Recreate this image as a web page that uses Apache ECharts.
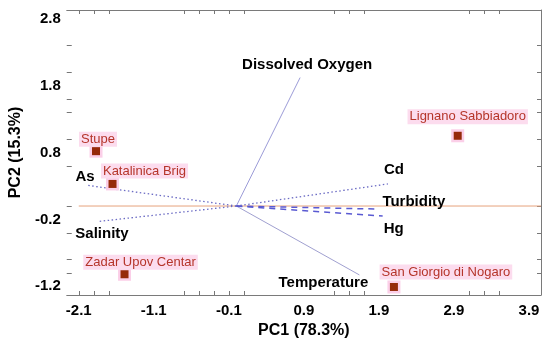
<!DOCTYPE html>
<html>
<head>
<meta charset="utf-8">
<script src="https://cdn.jsdelivr.net/npm/echarts@6/dist/echarts.min.js"></script>
<style>
html,body{margin:0;padding:0;background:#fff;}
#chart{width:550px;height:344px;}
</style>
</head>
<body>
<div id="chart"></div>
<script>
// ---- data ----
const xTickLabels = [-2.1, -1.1, -0.1, 0.9, 1.9, 2.9, 3.9];
const yTickLabels = [-1.2, -0.2, 0.8, 1.8, 2.8];
const xMinorTicks = [-2.1, -1.9, -1.7, -0.7, -0.5, -0.3, -0.1, 0.1, 1.3, 1.5, 1.7, 3.1, 3.3, 3.5];
const yMinorTicks = [-1.0, -0.8, -0.4, 0.0, 0.6, 1.0, 1.4, 1.6, 2.0, 2.4];

const siteNames = ["Stupe", "Katalinica Brig", "Zadar Upov Centar", "Lignano Sabbiadoro", "San Giorgio di Nogaro"];
const sitePC1 = [-1.87, -1.65, -1.49, 2.95, 2.10];
const sitePC2 = [0.82, 0.33, -1.02, 1.05, -1.21];

const varNames = ["Dissolved Oxygen", "Temperature", "Cd", "Turbidity", "Hg", "As", "Salinity"];
const varPC1 = [0.85, 1.64, 2.02, 1.86, 1.95, -1.99, -1.83];
const varPC2 = [1.92, -1.03, 0.33, -0.045, -0.15, 0.31, -0.23];

const zeroLineX = [-2.1, 4.06];

// ---- styling (kept apart from data) ----
const FONT = "'Liberation Sans', Arial, sans-serif";
const siteLabelOffset = {
  "Stupe": [2, -12],
  "Katalinica Brig": [32, -13],
  "Zadar Upov Centar": [16, -12],
  "Lignano Sabbiadoro": [10, -19],
  "San Giorgio di Nogaro": [52, -15]
};
const varLabelOffset = {
  "Dissolved Oxygen": [7, -13],
  "Temperature": [-36, 8],
  "Cd": [6, -14],
  "Turbidity": [38, -7],
  "Hg": [11, 13],
  "As": [-2, -8],
  "Salinity": [3, 12]
};
const varLineStyle = {
  "Dissolved Oxygen": {color: '#9c9cd8', width: 1, type: 'solid'},
  "Temperature": {color: '#a0a0d0', width: 1, type: 'solid'},
  "Cd": {color: '#6c6cc4', width: 1.3, type: [1.5, 2.5]},
  "Turbidity": {color: '#5a5ad2', width: 1.5, type: [6, 5]},
  "Hg": {color: '#5a5ad2', width: 1.5, type: [6, 5]},
  "As": {color: '#6c6cc4', width: 1.3, type: [1.5, 2.5]},
  "Salinity": {color: '#6c6cc4', width: 1.3, type: [1.5, 2.5]}
};

const X_MIN = -2.26, X_MAX = 4.06, Y_MIN = -1.33, Y_MAX = 2.93;

const series = [];
series.push({
  type: 'line', silent: true, symbol: 'none',
  data: zeroLineX.map(x => [x, 0]),
  lineStyle: {color: '#e6a27c', width: 1},
  z: 1
});
varNames.forEach((n, i) => {
  series.push({
    type: 'line', silent: true, symbol: 'none',
    data: [[0, 0], [varPC1[i], varPC2[i]]],
    lineStyle: varLineStyle[n],
    z: 2
  });
});
series.push({
  type: 'scatter', silent: true, symbolSize: 0,
  itemStyle: {color: '#000', opacity: 1},
  data: varNames.map((n, i) => ({
    name: n, value: [varPC1[i], varPC2[i]],
    label: {offset: varLabelOffset[n]}
  })),
  label: {
    show: true, position: 'inside', formatter: p => p.name,
    align: 'center', verticalAlign: 'middle',
    color: '#000', textBorderWidth: 0, textBorderColor: 'transparent',
    fontFamily: FONT, fontWeight: 'bold', fontSize: 15
  },
  z: 4
});
// pink halo behind site markers
series.push({
  type: 'scatter', silent: true, symbol: 'rect', symbolSize: 13,
  itemStyle: {color: '#fbcfe8', opacity: 1},
  data: siteNames.map((n, i) => [sitePC1[i], sitePC2[i]]),
  z: 5
});
series.push({
  type: 'scatter', silent: true, symbol: 'rect', symbolSize: 8,
  itemStyle: {color: '#962a0a', opacity: 1},
  data: siteNames.map((n, i) => ({
    name: n, value: [sitePC1[i], sitePC2[i]],
    label: {offset: siteLabelOffset[n]}
  })),
  label: {
    show: true, position: 'inside', formatter: p => p.name,
    align: 'center', verticalAlign: 'middle',
    color: '#b5352a', textBorderWidth: 0, textBorderColor: 'transparent',
    fontFamily: FONT, fontSize: 13,
    backgroundColor: '#fcdcee', padding: [1, 2]
  },
  z: 6
});

const frameColor = '#7a7a7a';
const option = {
  animation: false,
  backgroundColor: '#fff',
  grid: {left: 64, right: 9, top: 10, bottom: 49},
  xAxis: [{
    type: 'value', min: X_MIN, max: X_MAX, position: 'bottom',
    name: 'PC1 (78.3%)', nameLocation: 'middle', nameGap: 28,
    nameTextStyle: {fontFamily: FONT, fontWeight: 'bold', fontSize: 16, color: '#000'},
    axisLine: {show: true, onZero: false, lineStyle: {color: frameColor, width: 1}},
    axisTick: {show: true, inside: true, length: 4, customValues: xMinorTicks, lineStyle: {color: '#777'}},
    axisLabel: {show: true, customValues: xTickLabels, margin: 8,
      formatter: v => v.toFixed(1),
      fontFamily: FONT, fontWeight: 'bold', fontSize: 15, color: '#000'},
    splitLine: {show: false}
  }, {
    type: 'value', min: X_MIN, max: X_MAX, position: 'top',
    axisLine: {show: true, onZero: false, lineStyle: {color: frameColor, width: 1}},
    axisTick: {show: true, inside: true, length: 4, customValues: xMinorTicks, lineStyle: {color: '#777'}},
    axisLabel: {show: false},
    splitLine: {show: false}
  }],
  yAxis: [{
    type: 'value', min: Y_MIN, max: Y_MAX, position: 'left',
    name: 'PC2 (15.3%)', nameLocation: 'middle', nameGap: 42,
    nameTextStyle: {fontFamily: FONT, fontWeight: 'bold', fontSize: 16, color: '#000'},
    axisLine: {show: false, onZero: false},
    axisTick: {show: true, inside: true, length: 5, customValues: yMinorTicks, lineStyle: {color: '#777'}},
    axisLabel: {show: true, customValues: yTickLabels, margin: 6,
      formatter: v => v.toFixed(1),
      fontFamily: FONT, fontWeight: 'bold', fontSize: 15, color: '#000'},
    splitLine: {show: false}
  }, {
    type: 'value', min: Y_MIN, max: Y_MAX, position: 'right',
    axisLine: {show: true, onZero: false, lineStyle: {color: frameColor, width: 1}},
    axisTick: {show: true, inside: true, length: 4, customValues: yMinorTicks, lineStyle: {color: '#777'}},
    axisLabel: {show: false},
    splitLine: {show: false}
  }],
  series: series
};

const chart = echarts.init(document.getElementById('chart'), null, {renderer: 'canvas'});
chart.setOption(option);
</script>
</body>
</html>
